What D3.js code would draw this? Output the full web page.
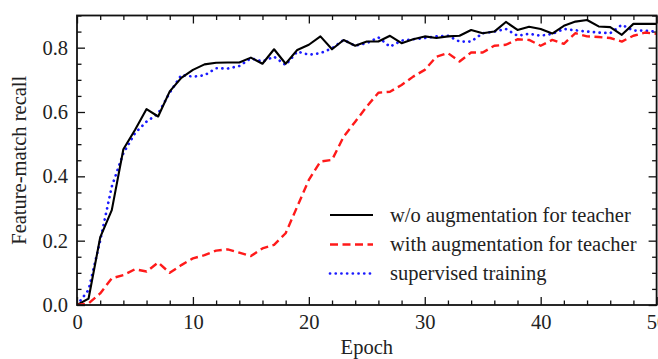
<!DOCTYPE html>
<html lang="en">
<head>
    <meta charset="UTF-8">
    <title>Feature-match recall vs Epoch</title>
    <style>
        body {
            margin: 0;
            padding: 0;
            background-color: #ffffff;
            overflow: hidden;
        }
        svg {
            display: block;
            font-family: 'Liberation Serif', 'Times New Roman', serif;
        }
        .axis path {
            display: none;
        }
        .axis line {
            stroke: #111;
            stroke-width: 1.3px;
        }
        .axis text {
            font-family: 'Liberation Serif', 'Times New Roman', serif;
            font-size: 20.5px;
            fill: #222;
        }
        .frame {
            fill: none;
            stroke: #111;
            stroke-width: 1.8px;
        }
        .series {
            fill: none;
            stroke-linejoin: round;
        }
        .legend text, .label {
            font-size: 20.5px;
            fill: #222;
        }
    </style>
</head>
<body>
    <div class="chart"></div>

    <script src="https://d3js.org/d3.v7.min.js"></script>
    <script>
        const width = 658;
        const height = 359;
        const margin = { top: 15.5, right: 1.4, bottom: 54, left: 77 };

        // values, one per epoch 0..50
        const epochs = d3.range(0, 51);
        const woAugmentation = [
            0.0, 0.02, 0.21, 0.295, 0.484, 0.544, 0.609, 0.586, 0.664, 0.706,
            0.731, 0.748, 0.753, 0.754, 0.754, 0.769, 0.75, 0.795, 0.75, 0.793,
            0.809, 0.835, 0.795, 0.824, 0.806, 0.819, 0.819, 0.837, 0.814, 0.826,
            0.835, 0.83, 0.835, 0.837, 0.855, 0.845, 0.85, 0.88, 0.855, 0.865,
            0.858, 0.844, 0.868, 0.881, 0.886, 0.866, 0.864, 0.84, 0.874, 0.874,
            0.874
        ];
        const withAugmentation = [
            0.0, 0.005, 0.036, 0.083, 0.093, 0.111, 0.104, 0.132, 0.1, 0.124,
            0.145, 0.155, 0.169, 0.173, 0.163, 0.152, 0.176, 0.187, 0.223, 0.306,
            0.389, 0.446, 0.451, 0.523, 0.57, 0.617, 0.66, 0.663, 0.684, 0.71,
            0.731, 0.772, 0.783, 0.757, 0.785, 0.785, 0.806, 0.809, 0.826, 0.824,
            0.806, 0.824, 0.812, 0.845, 0.835, 0.833, 0.83, 0.819, 0.837, 0.847,
            0.843
        ];
        const supervised = [
            0.0, 0.047, 0.2, 0.368, 0.472, 0.534, 0.57, 0.595, 0.66, 0.715,
            0.71, 0.714, 0.736, 0.735, 0.743, 0.767, 0.757, 0.772, 0.746, 0.788,
            0.778, 0.783, 0.798, 0.824, 0.806, 0.814, 0.832, 0.803, 0.822, 0.826,
            0.83, 0.835, 0.837, 0.819, 0.819, 0.845, 0.85, 0.858, 0.837, 0.843,
            0.837, 0.843, 0.858, 0.854, 0.85, 0.847, 0.845, 0.871, 0.853, 0.853,
            0.85
        ];
        const seriesNames = [
            'w/o augmentation for teacher',
            'with augmentation for teacher',
            'supervised training'
        ];
        const xTicks = [0, 10, 20, 30, 40, 50];
        const yTicks = [0.0, 0.2, 0.4, 0.6, 0.8];

        const innerW = width - margin.left - margin.right;
        const innerH = height - margin.top - margin.bottom;

        const svg = d3.select('.chart')
            .append('svg')
            .attr('width', width)
            .attr('height', height);

        const g = svg.append('g')
            .attr('transform', `translate(${margin.left},${margin.top})`);

        const x = d3.scaleLinear().domain([0, 50]).range([0, innerW]);
        const y = d3.scaleLinear().domain([0, 0.9]).range([innerH, 0]);

        const xMinor = d3.range(0, 51, 2).filter(v => v % 10 !== 0);
        const yMinor = d3.range(0, 0.9001, 0.05).filter(v => Math.abs(v * 5 - Math.round(v * 5)) > 1e-6);

        // major + minor ticks on all four sides, pointing inward
        g.append('g').attr('class', 'axis')
            .attr('transform', `translate(0,${innerH})`)
            .call(d3.axisBottom(x).tickValues(xTicks).tickFormat(d3.format('d'))
                .tickSizeInner(-8).tickSizeOuter(0).tickPadding(9));
        g.append('g').attr('class', 'axis')
            .attr('transform', `translate(0,${innerH})`)
            .call(d3.axisBottom(x).tickValues(xMinor).tickFormat('')
                .tickSizeInner(-4.5).tickSizeOuter(0));
        g.append('g').attr('class', 'axis')
            .call(d3.axisTop(x).tickValues(xTicks).tickFormat('')
                .tickSizeInner(-8).tickSizeOuter(0));
        g.append('g').attr('class', 'axis')
            .call(d3.axisTop(x).tickValues(xMinor).tickFormat('')
                .tickSizeInner(-4.5).tickSizeOuter(0));

        g.append('g').attr('class', 'axis')
            .call(d3.axisLeft(y).tickValues(yTicks).tickFormat(d3.format('.1f'))
                .tickSizeInner(-8).tickSizeOuter(0).tickPadding(9));
        g.append('g').attr('class', 'axis')
            .call(d3.axisLeft(y).tickValues(yMinor).tickFormat('')
                .tickSizeInner(-4.5).tickSizeOuter(0));
        g.append('g').attr('class', 'axis')
            .attr('transform', `translate(${innerW},0)`)
            .call(d3.axisRight(y).tickValues(yTicks).tickFormat('')
                .tickSizeInner(-8).tickSizeOuter(0));
        g.append('g').attr('class', 'axis')
            .attr('transform', `translate(${innerW},0)`)
            .call(d3.axisRight(y).tickValues(yMinor).tickFormat('')
                .tickSizeInner(-4.5).tickSizeOuter(0));

        const line = d3.line()
            .x((d, i) => x(epochs[i]))
            .y(d => y(d));

        const styles = [
            { color: '#000000', width: 2.1, dash: null, cap: 'butt' },
            { color: '#ff1a1a', width: 2.4, dash: '8,4.5', cap: 'butt' },
            { color: '#1a1aff', width: 2.7, dash: '0.1,5.6', cap: 'round' }
        ];
        const allSeries = [woAugmentation, withAugmentation, supervised];

        g.append('clipPath').attr('id', 'plot-clip')
            .append('rect')
            .attr('width', innerW)
            .attr('height', innerH);

        // draw supervised first so the solid line sits on top, red on top of all
        [2, 0, 1].forEach(k => {
            g.append('path')
                .datum(allSeries[k])
                .attr('class', 'series')
                .attr('clip-path', 'url(#plot-clip)')
                .attr('stroke', styles[k].color)
                .attr('stroke-width', styles[k].width)
                .attr('stroke-dasharray', styles[k].dash)
                .attr('stroke-linecap', styles[k].cap)
                .attr('d', line);
        });

        g.append('rect')
            .attr('class', 'frame')
            .attr('width', innerW)
            .attr('height', innerH);

        // legend, no box
        const legend = svg.append('g').attr('class', 'legend');
        const legendRows = [215, 244.5, 273.5];
        seriesNames.forEach((name, k) => {
            const row = legend.append('g')
                .attr('transform', `translate(330,${legendRows[k]})`);
            row.append('line')
                .attr('x1', 0).attr('x2', 43)
                .attr('stroke', styles[k].color)
                .attr('stroke-width', styles[k].width)
                .attr('stroke-dasharray', styles[k].dash)
                .attr('stroke-linecap', styles[k].cap);
            row.append('text')
                .attr('x', 60)
                .attr('dy', '0.32em')
                .text(name);
        });

        svg.append('text')
            .attr('class', 'label')
            .attr('x', margin.left + innerW / 2)
            .attr('y', 354)
            .attr('text-anchor', 'middle')
            .text('Epoch');

        svg.append('text')
            .attr('class', 'label')
            .attr('transform', `translate(26,${margin.top + innerH / 2}) rotate(-90)`)
            .attr('text-anchor', 'middle')
            .text('Feature-match recall');
    </script>
</body>
</html>
